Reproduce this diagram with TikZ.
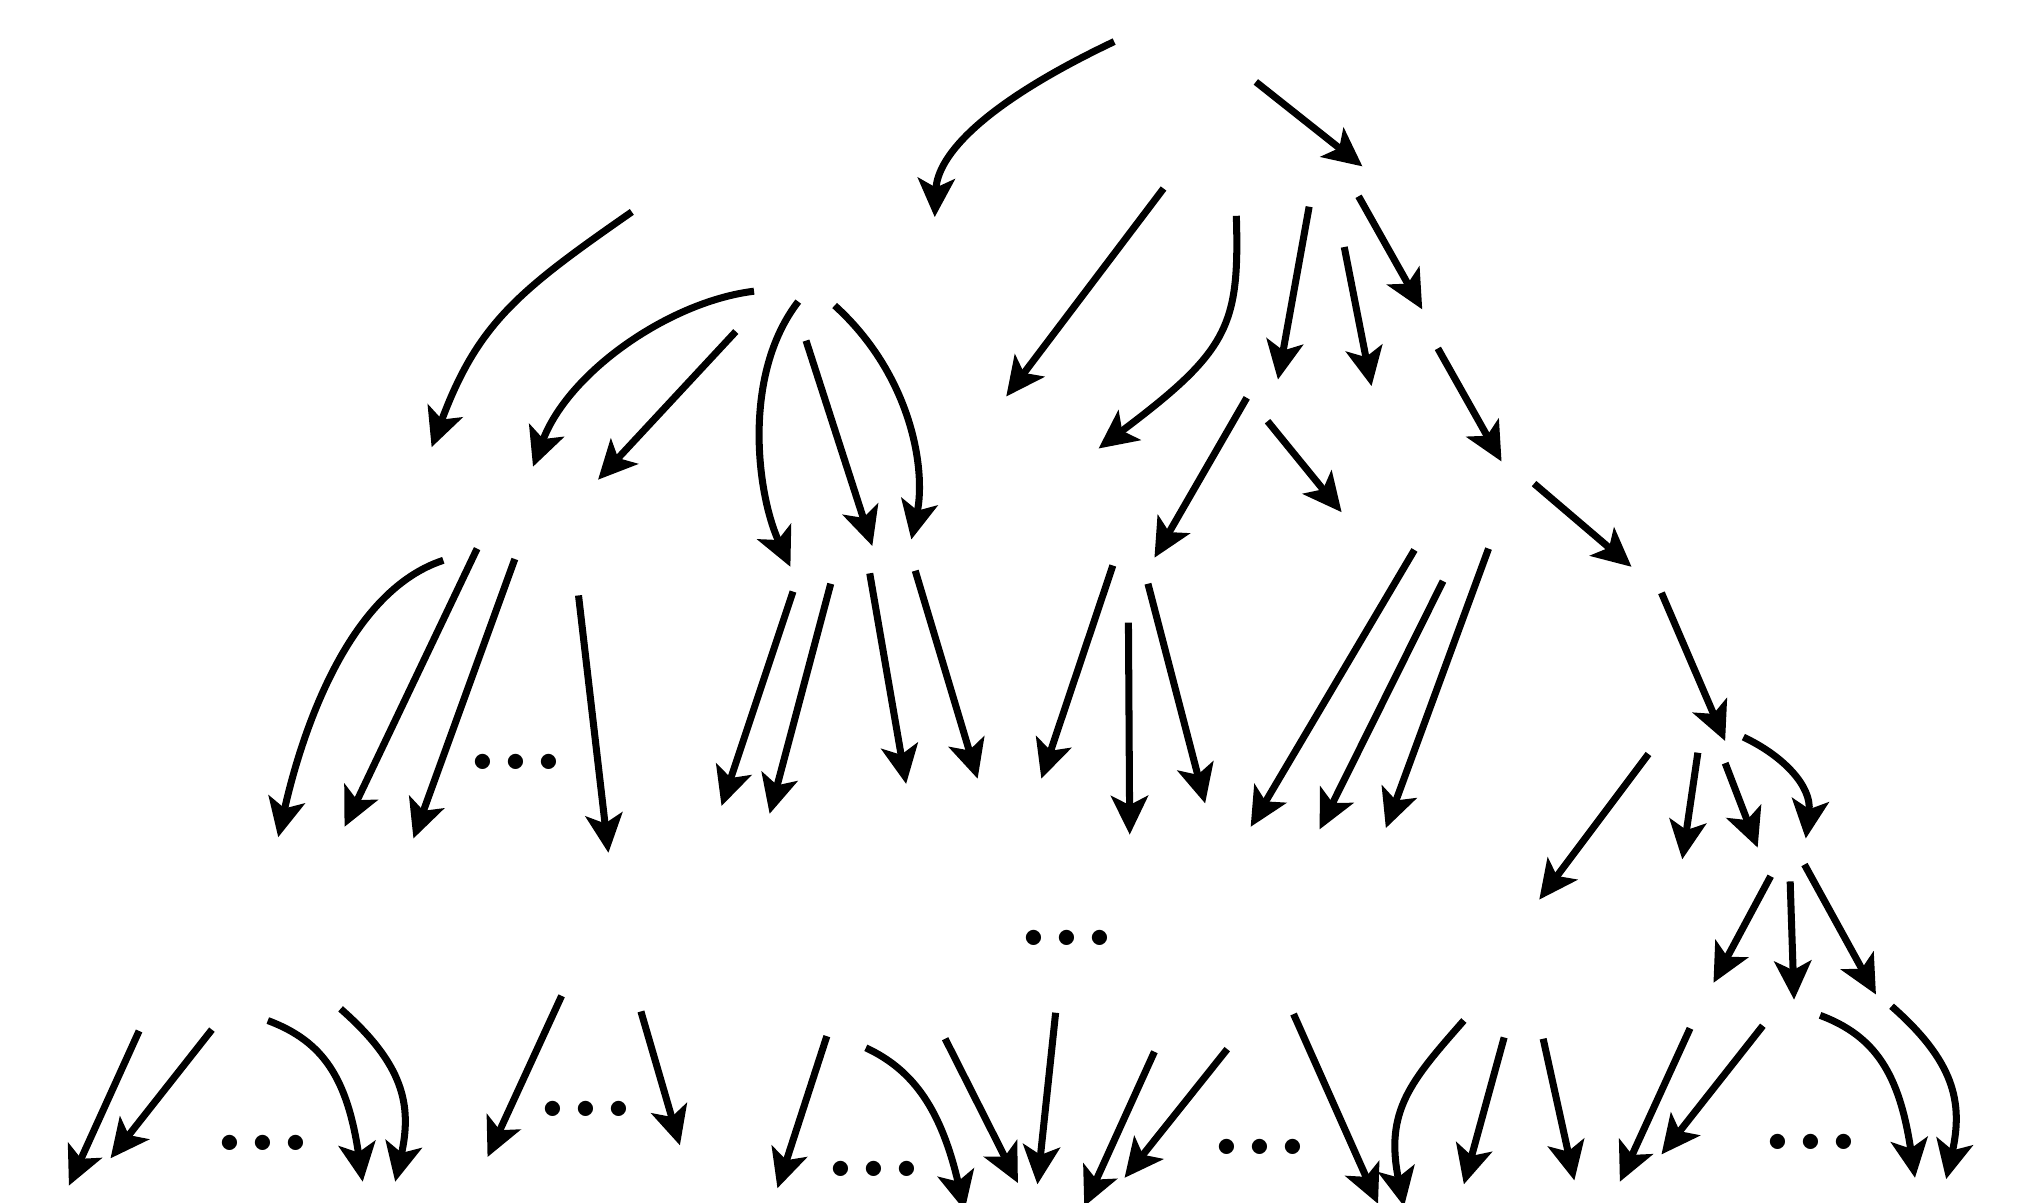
\documentclass[tikz,border=0pt]{standalone}
\usepackage{amsmath}
\usepackage{tikz}
\usetikzlibrary{arrows.meta}

\begin{document}
\begin{tikzpicture}[x=0.013cm, y=-0.013cm]
		\tikzstyle{link} = [-{Stealth[length=11pt, width=10.5pt, inset=2.6pt]}, line width = 2pt]
		\tikzstyle{ellip} = [inner sep = 0pt, anchor = base, font = \fontsize{30}{30}\selectfont\bfseries]
		\useasboundingbox (0,0) rectangle (1561.5,924.6);
		
		% level 1
		\coordinate (s1) at (857,32);    \coordinate (e1) at (719,167);
		\coordinate (s2) at (966,63);    \coordinate (e2) at (1048,128);
		
		% level 2
		\coordinate (s3) at (486,163);   \coordinate (e3) at (332,344);
		\coordinate (s4) at (895,145);   \coordinate (e4) at (774,305);
		\coordinate (s5) at (951,166);   \coordinate (e5) at (845,345);
		\coordinate (s6) at (1007,159);  \coordinate (e6) at (983,292);
		\coordinate (s7) at (1034,190);  \coordinate (e7) at (1055,297);
		\coordinate (s8) at (1045,151);  \coordinate (e8) at (1094,238);
		\coordinate (s9) at (1106,268);  \coordinate (e9) at (1155,355);
		\coordinate (s10) at (1180,372); \coordinate (e10) at (1255,436);
		\coordinate (s11) at (1278,456); \coordinate (e11) at (1327,570);
		
		% level 3
		\coordinate (s12) at (580,224);  \coordinate (e12) at (410,359);
		\coordinate (s13) at (566,255);  \coordinate (e13) at (460,369);
		\coordinate (s14) at (614,232);  \coordinate (e14) at (608,436);
		\coordinate (s15) at (620,262);  \coordinate (e15) at (671,420);
		\coordinate (s16) at (642,235);  \coordinate (e16) at (701,415);
		\coordinate (s17) at (959,306);  \coordinate (e17) at (888,429);
		\coordinate (s18) at (975,324);  \coordinate (e18) at (1032,394);
		
		% level 4
		\coordinate (s19) at (341,431);  \coordinate (e19) at (214,644);
		\coordinate (s20) at (367,422);  \coordinate (e20) at (265,636);
		\coordinate (s21) at (396,430);  \coordinate (e21) at (318,645);
		\coordinate (s23) at (445,458);  \coordinate (e23) at (468,656);
		\coordinate (s24) at (610,455);  \coordinate (e24) at (555,620);
		\coordinate (s25) at (639,449);  \coordinate (e25) at (592,626);
		\coordinate (s26) at (669,441);  \coordinate (e26) at (697,603);
		\coordinate (s27) at (704,439);  \coordinate (e27) at (752,599);
		\coordinate (s28) at (856,435);  \coordinate (e28) at (801,599);
		\coordinate (s29) at (868,479);  \coordinate (e29) at (869,642);
		\coordinate (s30) at (883,449);  \coordinate (e30) at (927,618);
		\coordinate (s31) at (1088,423); \coordinate (e31) at (962,636);
		\coordinate (s32) at (1110,447); \coordinate (e32) at (1015,638);
		\coordinate (s33) at (1145,422); \coordinate (e33) at (1066,637);
		\coordinate (s34) at (1268,580); \coordinate (e34) at (1184,692);
		\coordinate (s35) at (1306,579); \coordinate (e35) at (1294,661);
		\coordinate (s36) at (1327,587); \coordinate (e36) at (1352,652);
		\coordinate (s37) at (1341,567); \coordinate (e37) at (1389,645);
		\coordinate (s38) at (1362,674); \coordinate (e38) at (1318,756);
		\coordinate (s39) at (1377,678); \coordinate (e39) at (1380,769);
		\coordinate (s40) at (1388,665); \coordinate (e40) at (1443,765);
		
		% bottom row
		\coordinate (s41) at (107,793);  \coordinate (e41) at (53,912);
		\coordinate (s42) at (163,792);  \coordinate (e42) at (85,891);
		\coordinate (s44) at (206,785);  \coordinate (e44) at (279,909);
		\coordinate (s45) at (262,776);  \coordinate (e45) at (304,909);
		\coordinate (s46) at (432,766);  \coordinate (e46) at (375,890);
		\coordinate (s48) at (493,778);  \coordinate (e48) at (523,881);
		\coordinate (s49) at (636,797);  \coordinate (e49) at (598,914);
		\coordinate (s51) at (666,806);  \coordinate (e51) at (742,931);
		\coordinate (s52) at (727,799);  \coordinate (e52) at (783,910);
		\coordinate (s53) at (812,779);  \coordinate (e53) at (798,911);
		\coordinate (s54) at (888,809);  \coordinate (e54) at (834,928);
		\coordinate (s55) at (944,807);  \coordinate (e55) at (865,906);
		\coordinate (s57) at (995,780);  \coordinate (e57) at (1060,926);
		\coordinate (s58) at (1126,785); \coordinate (e58) at (1080,928);
		\coordinate (s59) at (1157,798); \coordinate (e59) at (1126,911);
		\coordinate (s60) at (1187,799); \coordinate (e60) at (1211,908);
		\coordinate (s61) at (1300,791); \coordinate (e61) at (1246,909);
		\coordinate (s62) at (1356,789); \coordinate (e62) at (1278,888);
		\coordinate (s64) at (1400,781); \coordinate (e64) at (1473,906);
		\coordinate (s65) at (1455,774); \coordinate (e65) at (1497,907);
		
		% arrows
		\draw[link] (s1) .. controls +(-101,48) and +(2,-47.5) .. (e1);
		\draw[link] (s2) -- (e2);
		
		\draw[link] (s3) .. controls +(-87.6,60.9) and +(35.5,-95.2) .. (e3);
		\draw[link] (s4) -- (e4);
		\draw[link] (s5) .. controls +(2.5,84.6) and +(100.4,-75.3) .. (e5);
		\draw[link] (s6) -- (e6);
		\draw[link] (s7) -- (e7);
		\draw[link] (s8) -- (e8);
		\draw[link] (s9) -- (e9);
		\draw[link] (s10) -- (e10);
		\draw[link] (s11) -- (e11);
		
		\draw[link] (s12) .. controls +(-64.5,7.8) and +(27.3,-73.2) .. (e12);
		\draw[link] (s13) -- (e13);
		\draw[link] (s14) .. controls +(-43.4,56.2) and +(-25.9,-56.1) .. (e14);
		\draw[link] (s15) -- (e15);
		\draw[link] (s16) .. controls +(59.1,53.5) and +(11.5,-53.5) .. (e16);
		\draw[link] (s17) -- (e17);
		\draw[link] (s18) -- (e18);
		
		\draw[link] (s19) .. controls +(-82.5,26.9) and +(11.8,-52.4) .. (e19);
		\draw[link] (s20) -- (e20);
		\draw[link] (s21) -- (e21);
		\draw[link] (s23) -- (e23);
		\draw[link] (s24) -- (e24);
		\draw[link] (s25) -- (e25);
		\draw[link] (s26) -- (e26);
		\draw[link] (s27) -- (e27);
		\draw[link] (s28) -- (e28);
		\draw[link] (s29) -- (e29);
		\draw[link] (s30) -- (e30);
		\draw[link] (s31) -- (e31);
		\draw[link] (s32) -- (e32);
		\draw[link] (s33) -- (e33);
		\draw[link] (s34) -- (e34);
		\draw[link] (s35) -- (e35);
		\draw[link] (s36) -- (e36);
		\draw[link] (s37) .. controls +(29.8,13.9) and +(4.9,-40.6) .. (e37);
		\draw[link] (s38) -- (e38);
		\draw[link] (s39) -- (e39);
		\draw[link] (s40) -- (e40);
		
		\draw[link] (s41) -- (e41);
		\draw[link] (s42) -- (e42);
		\draw[link] (s44) .. controls +(42.6,15.9) and +(-11.9,-79.8) .. (e44);
		\draw[link] (s45) .. controls +(47.9,42.1) and +(13.4,-59.5) .. (e45);
		\draw[link] (s46) -- (e46);
		\draw[link] (s48) -- (e48);
		\draw[link] (s49) -- (e49);
		\draw[link] (s51) .. controls +(37.7,17.4) and +(-17.7,-75.9) .. (e51);
		\draw[link] (s52) -- (e52);
		\draw[link] (s53) -- (e53);
		\draw[link] (s54) -- (e54);
		\draw[link] (s55) -- (e55);
		\draw[link] (s57) -- (e57);
		\draw[link] (s58) .. controls +(-41,46.6) and +(-15,-73.3) .. (e58);
		\draw[link] (s59) -- (e59);
		\draw[link] (s60) -- (e60);
		\draw[link] (s61) -- (e61);
		\draw[link] (s62) -- (e62);
		\draw[link] (s64) .. controls +(42.6,15.9) and +(-11.9,-79.8) .. (e64);
		\draw[link] (s65) .. controls +(47.9,42.1) and +(13.4,-59.5) .. (e65);
		
		% ellipses
		\node[ellip] (dots1) at (397,592) {...};
		\node[ellip] (dots2) at (821,727) {...};
		\node[ellip] (dots3) at (202,885) {...};
		\node[ellip] (dots4) at (451,859) {...};
		\node[ellip] (dots5) at (672,905) {...};
		\node[ellip] (dots6) at (969,888) {...};
		\node[ellip] (dots7) at (1393,884) {...};
\end{tikzpicture}
\end{document}
